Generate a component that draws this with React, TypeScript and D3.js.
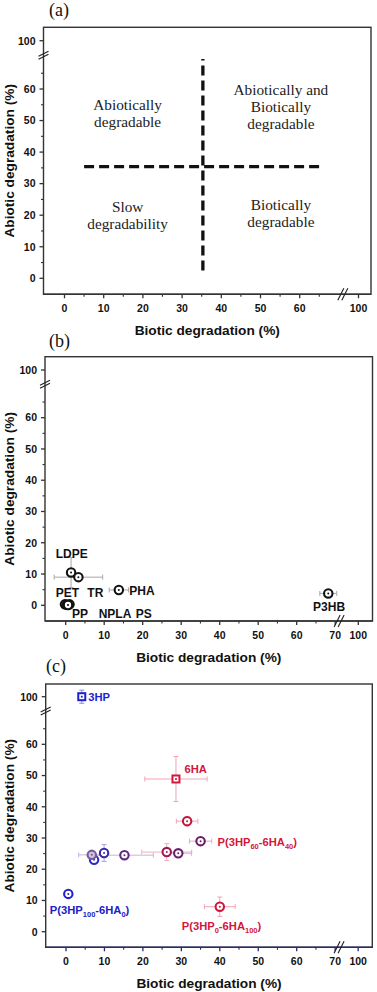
import React from 'react';
import * as d3 from 'd3';

// ---------- axis ticks ----------
const xMajorA = [0, 10, 20, 30, 40, 50, 60, 100];
const xMajorBC = [0, 10, 20, 30, 40, 50, 60, 70, 100];
const xMinor = [5, 15, 25, 35, 45, 55, 65];
const yMajor = [0, 10, 20, 30, 40, 50, 60, 100];
const yMinor = [5, 15, 25, 35, 45, 55, 65];

// ---------- panel (a) ----------
const quadLineX1 = [35.3, 5];
const quadLineY1 = [2.5, 35.4];
const quadLineX2 = [35.3, 66];
const quadLineY2 = [69.5, 35.4];
const quadTextX = [16.1, 55.2, 16.1, 55.2];
const quadTextY = [53.3, 58.1, 21.1, 21.6];
const quadTextLines = [
  ['Abiotically', 'degradable'],
  ['Abiotically and', 'Biotically', 'degradable'],
  ['Slow', 'degradability'],
  ['Biotically', 'degradable'],
];

// ---------- panel (b) ----------
const bX = [1.4, 3.3, 13.8, 68.2, -0.2, 0.3, 1.0, 0.6];
const bY = [10.5, 9.0, 4.9, 3.8, 0.3, 0.2, 0.3, 0.1];
const bXErr = [0, 6.3, 2.5, 2.2, 0, 0, 0, 0];
const bYErr = [4.8, 0.5, 0.5, 0.8, 0, 0, 0, 0];
const bLabels = ['LDPE', 'PET', 'TR', 'PHA', 'PP', 'NPLA', 'PS', 'P3HB'];
const bLabelX = [1.56, 0.47, 7.7, 19.8, 3.7, 12.8, 20.3, 68.4];
const bLabelY = [15.0, 2.8, 2.8, 3.3, -4.06, -4.06, -4.06, -1.8];

// ---------- panel (c) ----------
const cX = [4.1, 28.6, 0.6, 7.3, 6.7, 9.9, 15.2, 26.2, 29.2, 35.0, 31.5, 40.0];
const cY = [100, 48.9, 12.1, 23.0, 24.6, 25.2, 24.5, 25.5, 25.1, 29.0, 35.4, 8.0];
const cXErr = [0, 8.1, 0, 0, 3.4, 0, 7.5, 6.5, 3.4, 2.9, 2.8, 4.0];
const cYErr = [2.1, 7.2, 0.5, 0.8, 0.8, 2.7, 0.8, 2.7, 0.8, 1.0, 1.5, 3.1];
const cShape = ['square', 'square', 'circle', 'circle', 'circle', 'circle', 'circle', 'circle', 'circle', 'circle', 'circle', 'circle'];
const cColor = ['#1f1fd2', '#d4163c', '#2121cf', '#2a2ac8', '#7a5a98', '#3b2aa6', '#5a2a7c', '#a01a52', '#6a1e6e', '#6a1a62', '#c8143c', '#d0143c'];
const cFill = ['#ffffff', '#ffffff', '#ffffff', '#ffffff', '#cfc6dc', '#ffffff', '#ffffff', '#ffffff', '#ffffff', '#ffffff', '#ffffff', '#ffffff'];
const cErrColor = ['#8a8ae6', '#f0a3b4', '#9a9ae8', '#9a9ae8', '#c4b4dc', '#aaa2e2', '#c8b2da', '#f0b0c2', '#d4b4da', '#e2a8c8', '#f0a3b4', '#f0a3b4'];
const cLabelParts = [
  [['3HP', false]],
  [['6HA', false]],
  [['P(3HP', false], ['60', true], ['-6HA', false], ['40', true], [')', false]],
  [['P(3HP', false], ['100', true], ['-6HA', false], ['0', true], [')', false]],
  [['P(3HP', false], ['0', true], ['-6HA', false], ['100', true], [')', false]],
];
const cLabelX = [5.8, 30.8, 39.4, -4.2, 30.1];
const cLabelY = [98.6, 50.7, 27.6, 5.7, 0.5];
const cLabelColor = ['#1f1fd2', '#d4163c', '#d4163c', '#2020c8', '#d4163c'];

const panelLetters = ['(a)', '(b)', '(c)'];

// layout of the three panels
const panels = [
  { left: 43.5, right: 371, top: 27.3, bottom: 294.3, zx: 64.5, kx: 3.92, x100: 358.5, zy: 278.3, ky: 3.155, y100: 40.7, letterX: 49, letterY: 16, bottomColor: '#333', xMajor: xMajorA },
  { left: 45, right: 372.5, top: 356.7, bottom: 621, zx: 65.7, kx: 3.85, x100: 358.3, zy: 605.3, ky: 3.127, y100: 370, letterX: 49, letterY: 347, bottomColor: '#333', xMajor: xMajorBC },
  { left: 45.7, right: 372.3, top: 684, bottom: 947.3, zx: 66, kx: 3.845, x100: 358.2, zy: 931.7, ky: 3.123, y100: 696.7, letterX: 46, letterY: 672, bottomColor: '#2a2a6e', xMajor: xMajorBC },
];

function makeScales(p: any) {
  const x = d3
    .scaleLinear()
    .domain([(p.left - p.zx) / p.kx, 71, 96, 100 + (p.right - p.x100) / p.kx])
    .range([p.left, p.zx + 71 * p.kx, p.x100 - 4 * p.kx, p.right]);
  const y = d3
    .scaleLinear()
    .domain([(p.zy - p.bottom) / p.ky, 71, 96, 100 + (p.y100 - p.top) / p.ky])
    .range([p.bottom, p.zy - 71 * p.ky, p.y100 + 4 * p.ky, p.top]);
  return { x, y };
}

const sans = "'Liberation Sans', Arial, sans-serif";
const serif = "'Liberation Serif', 'Times New Roman', serif";

function Frame({ p, idx }: any) {
  const { x, y } = makeScales(p);
  const axisCol = '#333';
  const bx = x(71.5);
  const by = y(71.6);
  return (
    <g>
      <rect x={p.left} y={p.top} width={p.right - p.left} height={p.bottom - p.top} fill="none" stroke={axisCol} strokeWidth={1.4} />
      <line x1={p.left} x2={p.right} y1={p.bottom} y2={p.bottom} stroke={p.bottomColor} strokeWidth={1.6} />
      {p.xMajor.map((v: number) => (
        <g key={'xm' + v}>
          <line x1={x(v)} x2={x(v)} y1={p.bottom} y2={p.bottom + 4} stroke={p.bottomColor} strokeWidth={1.3} />
          <text x={x(v)} y={p.bottom + 17.5} textAnchor="middle" fontFamily={sans} fontWeight="bold" fontSize={10.5} fill="#111">{v}</text>
        </g>
      ))}
      {xMinor.map((v) => (
        <line key={'xn' + v} x1={x(v)} x2={x(v)} y1={p.bottom} y2={p.bottom + 2.5} stroke={p.bottomColor} strokeWidth={1.1} />
      ))}
      {yMajor.map((v) => (
        <g key={'ym' + v}>
          <line x1={p.left - 4} x2={p.left} y1={y(v)} y2={y(v)} stroke={axisCol} strokeWidth={1.3} />
          <text x={p.left - 8} y={y(v) + 3.8} textAnchor="end" fontFamily={sans} fontWeight="bold" fontSize={10.5} fill="#111">{v}</text>
        </g>
      ))}
      {yMinor.map((v) => (
        <line key={'yn' + v} x1={p.left - 2.5} x2={p.left} y1={y(v)} y2={y(v)} stroke={axisCol} strokeWidth={1.1} />
      ))}
      <g stroke="#222" strokeWidth={1.1}>
        <line x1={bx - 5} y1={p.bottom + 6} x2={bx + 1} y2={p.bottom - 6} />
        <line x1={bx - 1} y1={p.bottom + 6} x2={bx + 5} y2={p.bottom - 6} />
        <line x1={p.left - 5} y1={by + 2} x2={p.left + 5} y2={by - 3} />
        <line x1={p.left - 5} y1={by + 5} x2={p.left + 5} y2={by} />
      </g>
      <text x={(p.left + p.right) / 2} y={p.bottom + 40.5} textAnchor="middle" fontFamily={sans} fontWeight="bold" fontSize={13.7} fill="#111">Biotic degradation (%)</text>
      <text transform={`translate(13.5,${(p.top + p.bottom) / 2}) rotate(-90)`} textAnchor="middle" fontFamily={sans} fontWeight="bold" fontSize={13.7} fill="#111">Abiotic degradation (%)</text>
      <text x={p.letterX} y={p.letterY} fontFamily={serif} fontSize={18} fill="#111">{panelLetters[idx]}</text>
    </g>
  );
}

function PanelA() {
  const p = panels[0];
  const { x, y } = makeScales(p);
  return (
    <g>
      {quadLineX1.map((_, i) => (
        <line key={i} x1={x(quadLineX1[i])} y1={y(quadLineY1[i])} x2={x(quadLineX2[i])} y2={y(quadLineY2[i])} stroke="#111" strokeWidth={3.3} strokeDasharray="10,5" />
      ))}
      {quadTextLines.map((lines, i) => (
        <text key={i} textAnchor="middle" fontFamily={serif} fontSize={15.3} fill="#222">
          {lines.map((s, j) => (
            <tspan key={j} x={x(quadTextX[i])} y={y(quadTextY[i]) + j * 17}>{s}</tspan>
          ))}
        </text>
      ))}
    </g>
  );
}

function Circ({ cx, cy, color, fill }: any) {
  return (
    <g>
      <circle cx={cx} cy={cy} r={4.2} fill={fill} stroke={color} strokeWidth={2.1} />
      <circle cx={cx} cy={cy} r={1} fill={color} />
    </g>
  );
}

function ErrBars({ cx, cy, x1, x2, y1, y2, color }: any) {
  return (
    <g stroke={color} strokeWidth={1}>
      {x1 !== x2 && (
        <g>
          <line x1={x1} x2={x2} y1={cy} y2={cy} />
          <line x1={x1} x2={x1} y1={cy - 2.5} y2={cy + 2.5} />
          <line x1={x2} x2={x2} y1={cy - 2.5} y2={cy + 2.5} />
        </g>
      )}
      {y1 !== y2 && (
        <g>
          <line x1={cx} x2={cx} y1={y1} y2={y2} />
          <line x1={cx - 2.5} x2={cx + 2.5} y1={y1} y2={y1} />
          <line x1={cx - 2.5} x2={cx + 2.5} y1={y2} y2={y2} />
        </g>
      )}
    </g>
  );
}

function PanelB() {
  const p = panels[1];
  const { x, y } = makeScales(p);
  return (
    <g>
      {bX.map((_, i) => (
        <ErrBars key={'e' + i} cx={x(bX[i])} cy={y(bY[i])} x1={x(bX[i] - bXErr[i])} x2={x(bX[i] + bXErr[i])} y1={y(bY[i] + bYErr[i])} y2={y(bY[i] - bYErr[i])} color="#a8a8a8" />
      ))}
      {bX.map((_, i) => (
        <Circ key={'c' + i} cx={x(bX[i])} cy={y(bY[i])} color="#111" fill="#fff" />
      ))}
      {bLabels.map((s, i) => (
        <text key={s} x={x(bLabelX[i])} y={y(bLabelY[i])} textAnchor="middle" fontFamily={sans} fontWeight="bold" fontSize={12} fill="#111">{s}</text>
      ))}
    </g>
  );
}

function PanelC() {
  const p = panels[2];
  const { x, y } = makeScales(p);
  return (
    <g>
      {cX.map((_, i) => (
        <ErrBars key={'e' + i} cx={x(cX[i])} cy={y(cY[i])} x1={x(cX[i] - cXErr[i])} x2={x(cX[i] + cXErr[i])} y1={y(cY[i] + cYErr[i])} y2={y(cY[i] - cYErr[i])} color={cErrColor[i]} />
      ))}
      {cX.map((_, i) =>
        cShape[i] === 'square' ? (
          <g key={'m' + i}>
            <rect x={x(cX[i]) - 3.5} y={y(cY[i]) - 3.5} width={7} height={7} fill="#fff" stroke={cColor[i]} strokeWidth={2} />
            <rect x={x(cX[i]) - 0.9} y={y(cY[i]) - 0.9} width={1.8} height={1.8} fill={cColor[i]} />
          </g>
        ) : (
          <Circ key={'m' + i} cx={x(cX[i])} cy={y(cY[i])} color={cColor[i]} fill={cFill[i]} />
        )
      )}
      {cLabelParts.map((parts, i) => (
        <text key={'l' + i} x={x(cLabelX[i])} y={y(cLabelY[i])} fontFamily={sans} fontWeight="bold" fontSize={11.2} fill={cLabelColor[i]}>
          {parts.map(([s, sub]: any, j: number) => {
            const prevSub = j > 0 && parts[j - 1][1];
            const dy = sub ? 3 : prevSub ? -3 : 0;
            return (
              <tspan key={j} dy={dy} fontSize={sub ? 7.5 : 11.2}>{s}</tspan>
            );
          })}
        </text>
      ))}
    </g>
  );
}

export default function App() {
  return (
    <svg width={377} height={992} style={{ position: 'absolute', left: 0, top: 0, background: '#fff' }} xmlns="http://www.w3.org/2000/svg">
      <rect width={377} height={992} fill="#fff" />
      {panels.map((p, i) => (
        <Frame key={i} p={p} idx={i} />
      ))}
      <PanelA />
      <PanelB />
      <PanelC />
    </svg>
  );
}
